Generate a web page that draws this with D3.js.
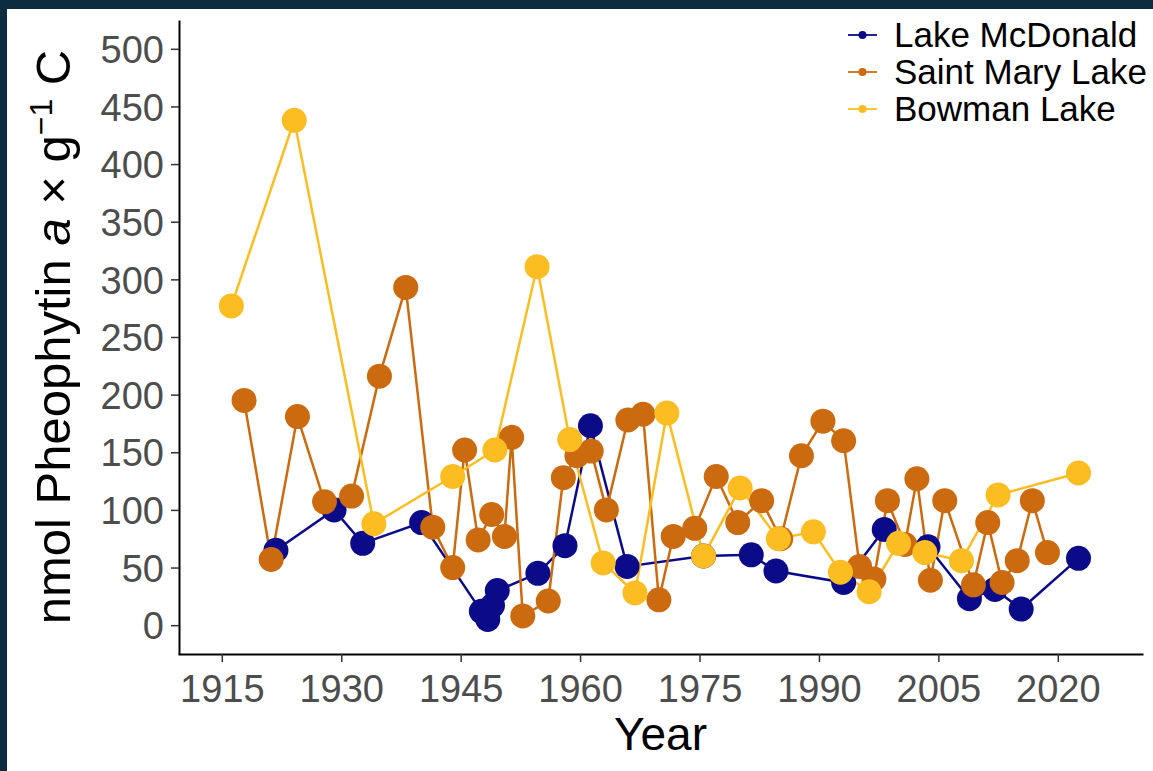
<!DOCTYPE html>
<html>
<head>
<meta charset="utf-8">
<script src="https://cdn.jsdelivr.net/npm/d3@7"></script>
<style>
  html, body { margin: 0; padding: 0; background: #0e2c3f; }
  svg { display: block; }
  text { font-family: "Liberation Sans", Arial, sans-serif; }
</style>
</head>
<body>
<svg id="chart" width="1153" height="771"></svg>
<script>
// Pheophytin a concentrations in sediment cores from three Glacier NP lakes
const mcdonaldYears  = [1921.8, 1929.1, 1932.7, 1940.1, 1947.6, 1948.4, 1949.0, 1949.6, 1954.7, 1958.1, 1961.3, 1965.9, 1975.5, 1981.5, 1984.6, 1993.1, 1998.2, 2003.7, 2008.9, 2012.1, 2015.4, 2022.6];
const mcdonaldValues = [65, 100, 71, 89, 12, 5, 17, 30, 45, 69, 173, 51, 60, 61, 47, 37, 83, 68, 23, 31, 14, 58];

const stMaryYears  = [1917.8, 1921.2, 1924.5, 1927.9, 1931.3, 1934.8, 1938.1, 1941.5, 1944.0, 1945.5, 1947.2, 1948.9, 1950.5, 1951.4, 1952.8, 1956.0, 1957.9, 1959.6, 1961.4, 1963.3, 1966.0, 1967.9, 1969.9, 1971.7, 1974.4, 1977.1, 1979.8, 1982.8, 1985.2, 1987.8, 1990.5, 1993.1, 1995.1, 1996.9, 1998.6, 2000.8, 2002.3, 2004.0, 2005.8, 2009.4, 2011.2, 2013.0, 2014.9, 2016.8, 2018.7];
const stMaryValues = [195, 57, 181, 107, 112, 216, 293, 85, 50, 152, 74, 96, 77, 163, 8, 21, 128, 147, 151, 100, 178, 183, 22, 77, 84, 129, 89, 108, 75, 147, 177, 160, 51, 40, 108, 70, 127, 39, 108, 35, 89, 37, 56, 108, 63];

const bowmanYears  = [1916.2, 1924.1, 1934.1, 1944.0, 1949.3, 1954.6, 1958.7, 1962.9, 1966.9, 1970.9, 1975.5, 1980.1, 1984.9, 1989.3, 1992.7, 1996.3, 2000.0, 2003.3, 2007.9, 2012.5, 2022.6];
const bowmanValues = [277, 438, 88, 129, 152, 311, 161, 54, 28, 184, 60, 119, 75, 81, 46, 29, 71, 63, 56, 113, 132];

const lakeNames  = ["Lake McDonald", "Saint Mary Lake", "Bowman Lake"];
const lakeColors = ["#0b0b8a", "#cc6a10", "#fbbd22"];

const xTicks = [1915, 1930, 1945, 1960, 1975, 1990, 2005, 2020];
const yTicks = [0, 50, 100, 150, 200, 250, 300, 350, 400, 450, 500];

const series = [
  { name: lakeNames[0], color: lakeColors[0], pts: mcdonaldYears.map((y, i) => ({ year: y, value: mcdonaldValues[i] })) },
  { name: lakeNames[1], color: lakeColors[1], pts: stMaryYears.map((y, i) => ({ year: y, value: stMaryValues[i] })) },
  { name: lakeNames[2], color: lakeColors[2], pts: bowmanYears.map((y, i) => ({ year: y, value: bowmanValues[i] })) }
];

const svg = d3.select("#chart");
const W = 1153, H = 771;

// white page inside the dark frame
svg.append("rect").attr("x", 7).attr("y", 9).attr("width", W - 7).attr("height", H - 9).attr("fill", "#ffffff");

const panel = { left: 178, right: 1143, top: 20, bottom: 654 };

const x = d3.scaleLinear().domain([1909.5, 2030.7]).range([panel.left, panel.right]);
const y = d3.scaleLinear().domain([-25, 525]).range([panel.bottom, panel.top]);

// axes
const xAxis = d3.axisBottom(x).tickValues(xTicks).tickFormat(d3.format("d")).tickSize(8).tickPadding(6).tickSizeOuter(0);
const yAxis = d3.axisLeft(y).tickValues(yTicks).tickFormat(d3.format("d")).tickSize(8).tickPadding(7).tickSizeOuter(0);

const gx = svg.append("g").attr("transform", `translate(0,${panel.bottom})`).call(xAxis);
const gy = svg.append("g").attr("transform", `translate(${panel.left + 1},0)`).call(yAxis);

[gx, gy].forEach(g => {
  g.select(".domain").attr("stroke", "#000").attr("stroke-width", 2);
  g.selectAll(".tick line").attr("stroke", "#333").attr("stroke-width", 1.5);
  g.selectAll(".tick text").attr("fill", "#4d4d4d").style("font-size", "38px")
    .style("font-family", "'Liberation Sans', Arial, sans-serif");
});
gx.selectAll(".tick text").attr("dy", "0.9em");
gy.selectAll(".tick text").attr("dy", "0.36em");

// series lines, then points
const line = d3.line().x(d => x(d.year)).y(d => y(d.value));
const plot = svg.append("g");
series.forEach(s => {
  plot.append("path").datum(s.pts)
    .attr("d", line).attr("fill", "none")
    .attr("stroke", s.color).attr("stroke-width", 2.5);
});
series.forEach(s => {
  plot.append("g").selectAll("circle").data(s.pts).join("circle")
    .attr("cx", d => x(d.year)).attr("cy", d => y(d.value))
    .attr("r", 12.5).attr("fill", s.color);
});

// axis titles
svg.append("text")
  .attr("x", (panel.left + panel.right) / 2).attr("y", 750)
  .attr("text-anchor", "middle").attr("fill", "#000")
  .style("font-size", "46px").text("Year");

const yt = svg.append("text")
  .attr("transform", `translate(70,${(panel.top + panel.bottom) / 2}) rotate(-90)`)
  .attr("text-anchor", "middle").attr("fill", "#000")
  .style("font-size", "49px");
yt.append("tspan").text("nmol Pheophytin ");
yt.append("tspan").style("font-style", "italic").text("a");
yt.append("tspan").text(" \u00d7 g");
yt.append("tspan").attr("dy", "-0.55em").style("font-size", "32px").text("\u22121");
yt.append("tspan").attr("dy", "0.36em").text(" C");

// legend
const legend = svg.append("g").attr("transform", "translate(848,35)");
series.forEach((s, i) => {
  const row = legend.append("g").attr("transform", `translate(0,${i * 37})`);
  row.append("line").attr("x1", 0).attr("x2", 29).attr("y1", 0).attr("y2", 0)
    .attr("stroke", s.color).attr("stroke-width", 1.8);
  row.append("circle").attr("cx", 14.5).attr("cy", 0).attr("r", 4).attr("fill", s.color);
  row.append("text").attr("x", 46).attr("y", 0).attr("dy", "0.35em")
    .attr("fill", "#000").style("font-size", "35px").text(s.name);
});
</script>
</body>
</html>
